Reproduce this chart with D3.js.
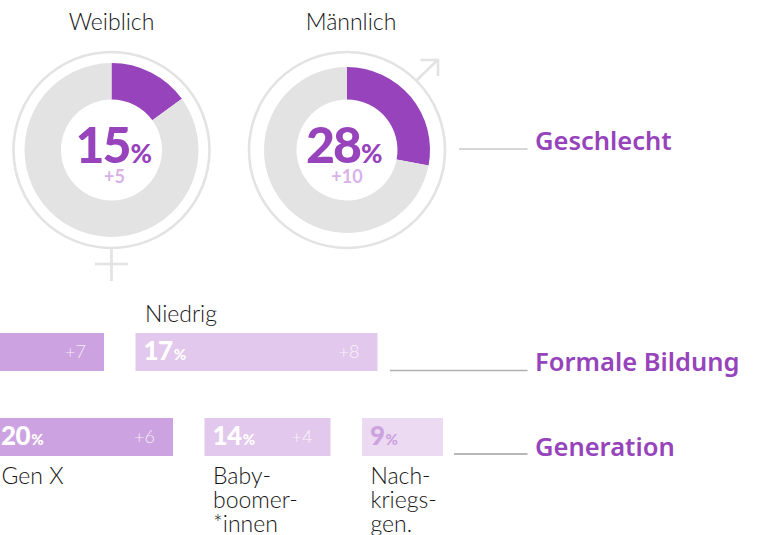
<!DOCTYPE html>
<html><head><meta charset="utf-8">
<script src="https://cdn.jsdelivr.net/npm/d3@7/dist/d3.min.js"></script>
<style>html,body{margin:0;background:#fff}svg{display:block}text{font-family:"Lato","Open Sans",sans-serif}</style>
</head><body><svg id="c" width="758" height="535"></svg>
<script>
const genderLabels=["Weiblich","Männlich"];
const genderValues=[15,28];
const genderDeltas=["+5","+10"];
const eduLabels=["","Niedrig"];
const eduValues=[30,17];
const eduDeltas=["+7","+8"];
const genLabels=[["Gen X"],["Baby-","boomer-","*innen"],["Nach-","kriegs-","gen."]];
const genValues=[20,14,9];
const genDeltas=["+6","+4",""];
const sectionLabels=["Geschlecht","Formale Bildung","Generation"];

const PURPLE="#9643bc",GREY="#e3e3e3",INK="#161616";
const svg=d3.select("#c");
const pie=d3.pie().sort(null).startAngle(0).endAngle(2*Math.PI);
const donuts=[{cx:111.5,cy:150,outer:87,titleDx:0,numX:-36,deltaX:3},{cx:347,cy:150,outer:83,titleDx:4,numX:-41,deltaX:0}];

donuts.forEach((d,i)=>{
  const g=svg.append("g").attr("transform",`translate(${d.cx},${d.cy})`);
  g.append("circle").attr("r",98).attr("fill","none").attr("stroke",GREY).attr("stroke-width",2.6);
  const arc=d3.arc().innerRadius(50.5).outerRadius(d.outer);
  g.selectAll("path").data(pie([genderValues[i],100-genderValues[i]])).join("path")
    .attr("d",arc).attr("fill",(p,j)=>j?GREY:PURPLE);
  g.append("text").attr("x",d.titleDx).attr("y",-120).attr("text-anchor","middle")
    .attr("font-size",23).attr("font-weight",300).attr("fill",INK).text(genderLabels[i]);
  const t=g.append("text").attr("x",d.numX).attr("y",13).attr("fill",PURPLE).attr("font-weight",900);
  t.append("tspan").attr("font-size",50).attr("letter-spacing",-2).text(genderValues[i]);
  t.append("tspan").attr("font-size",26).attr("dx",1).text("%");
  g.append("text").attr("x",d.deltaX).attr("y",33).attr("text-anchor","middle")
    .attr("font-size",18).attr("font-weight",700).attr("fill","#d9b2ea").text(genderDeltas[i]);
});

// gender glyphs
const sym=svg.append("g").attr("fill","none").attr("stroke",GREY).attr("stroke-width",2.6);
sym.append("path").attr("d","M111.5 248V281M95 264H128");
sym.append("path").attr("d","M417 80L438 59.5M420.5 60H438V76");

// bars
function barRow(values,y,pxPerPct,start,colors){
  const x=d3.scaleLinear().domain([0,1]).range([0,pxPerPct]);
  const gap=31.5,h=38;
  let cur=start;
  return values.map((v,i)=>{
    const w=x(v),x0=cur;cur=x0+w+gap;
    svg.append("rect").attr("x",x0).attr("y",y).attr("width",w).attr("height",h).attr("fill",colors[i]);
    return {x0,w};
  });
}
function barText(layout,values,deltas,y,show,pctColors){
  layout.forEach((b,i)=>{
    if(show[i]){
      const t=svg.append("text").attr("x",b.x0+8).attr("y",y+27).attr("fill",pctColors[i]).attr("font-weight",900);
      t.append("tspan").attr("font-size",26).attr("letter-spacing",-.5).text(values[i]);
      t.append("tspan").attr("font-size",15).attr("dx",1).text("%");
    }
    if(deltas[i]) svg.append("text").attr("x",b.x0+b.w-18).attr("y",y+25).attr("text-anchor","end")
      .attr("font-size",18).attr("fill","#fff").attr("fill-opacity",.8).attr("font-weight",300).text(deltas[i]);
  });
}
const eduPx=242/17,genPx=9;
const eduC=["#cca3e0","#e2c8ec"],genC=["#cca3e0","#e2c8ec","#ecd9f2"];
const eduL=barRow(eduValues,333,eduPx,104-eduValues[0]*eduPx,eduC);
barText(eduL,eduValues,eduDeltas,333,[false,true],["#fff","#fff"]);
svg.append("text").attr("x",eduL[1].x0+9.5).attr("y",322).attr("font-size",23).attr("font-weight",300).attr("fill",INK).text(eduLabels[1]);
const genL=barRow(genValues,418,genPx,-7,genC);
barText(genL,genValues,genDeltas,418,[true,true,true],["#fff","#fff","#cca3e0"]);
genLabels.forEach((ls,i)=>ls.forEach((l,j)=>svg.append("text").attr("x",genL[i].x0+8.5).attr("y",484+j*24)
  .attr("font-size",23).attr("font-weight",300).attr("fill",INK).text(l)));

// section labels
const secY=[149,370.5,454],secX=[459,390,454],secTextY=[150,371,456],secCol=["#c8c8c8","#b0b0b0","#a0a0a0"];
sectionLabels.forEach((s,i)=>{
  svg.append("line").attr("x1",secX[i]).attr("x2",527.5).attr("y1",secY[i]).attr("y2",secY[i]).attr("stroke",secCol[i]).attr("stroke-width",1.3);
  svg.append("text").attr("x",535).attr("y",secTextY[i]).attr("font-size",25.5)
    .attr("fill",PURPLE).style("font-family","'Noto Sans'").attr("font-weight",600).text(s);
});
</script></body></html>
